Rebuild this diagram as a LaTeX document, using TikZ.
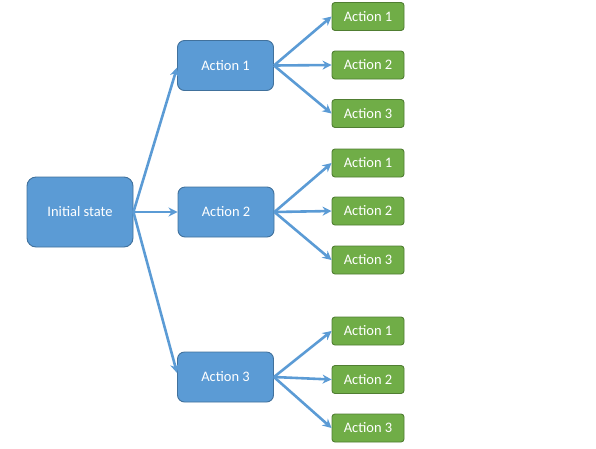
\documentclass[tikz,border=0pt]{standalone}
\usepackage{fontspec}
\setmainfont{Carlito}
\usetikzlibrary{arrows.meta}
\definecolor{bfill}{HTML}{5B9BD5}
\definecolor{bdraw}{HTML}{41719C}
\definecolor{gfill}{HTML}{70AD47}
\definecolor{gdraw}{HTML}{507E32}
\definecolor{arr}{HTML}{5B9BD5}
\tikzset{
  base/.style={rectangle, text=white, line width=0.9pt, inner sep=0pt, font=\fontsize{14.5}{16}\selectfont},
  initbox/.style={base, fill=bfill, draw=bdraw, rounded corners=9pt, minimum width=106pt, minimum height=70pt},
  actbox/.style={base, fill=bfill, draw=bdraw, rounded corners=7pt, minimum width=96pt, minimum height=50pt},
  leafbox/.style={base, fill=gfill, draw=gdraw, rounded corners=3pt, minimum width=72pt, minimum height=28pt},
  conn/.style={draw=arr, line width=2.6pt, -{Stealth[length=9pt,width=9pt]}}
}
\begin{document}
\begin{tikzpicture}[x=1pt,y=-1pt]
\useasboundingbox (0,0) rectangle (596,448);
\node[initbox] (init) at (80,212) {Initial state};
\node[actbox] (a1) at (225.5,65.5) {Action 1};
\node[actbox] (a2) at (226,212) {Action 2};
\node[actbox] (a3) at (225.5,377) {Action 3};
\node[leafbox] (l11) at (368,16.5) {Action 1};
\node[leafbox] (l12) at (368,65) {Action 2};
\node[leafbox] (l13) at (368,113.5) {Action 3};
\node[leafbox] (l21) at (368,163) {Action 1};
\node[leafbox] (l22) at (368,211) {Action 2};
\node[leafbox] (l23) at (368,260) {Action 3};
\node[leafbox] (l31) at (368,331) {Action 1};
\node[leafbox] (l32) at (368,379.5) {Action 2};
\node[leafbox] (l33) at (368,428) {Action 3};
\draw[conn] (init.east) -- ([yshift=-2pt]a1.west);
\draw[conn] (init.east) -- (a2.west);
\draw[conn] (init.east) -- ([yshift=4pt]a3.west);
\foreach \p/\a/\b/\c in {a1/l11/l12/l13, a2/l21/l22/l23, a3/l31/l32/l33}{
  \draw[conn] (\p.east) -- (\a.west);
  \draw[conn] (\p.east) -- (\b.west);
  \draw[conn] (\p.east) -- (\c.west);
}
\end{tikzpicture}
\end{document}
